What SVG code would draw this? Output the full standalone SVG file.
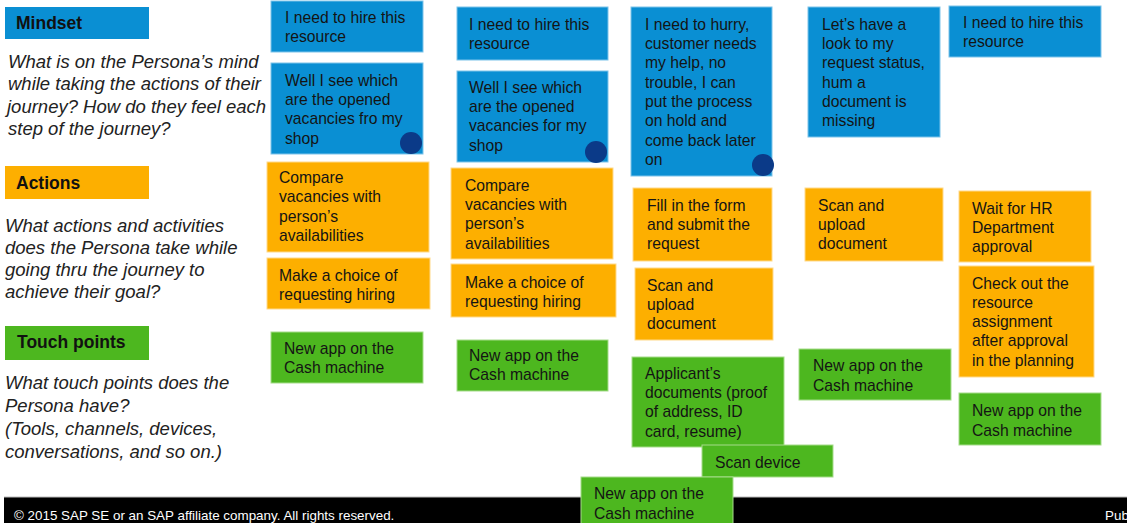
<svg xmlns="http://www.w3.org/2000/svg" width="1127" height="523" viewBox="0 0 1127 523">
<style>
text{font-family:"Liberation Sans",Arial,sans-serif}
.hdr{font-size:17.5px;font-weight:bold;fill:#111}
.q{font-size:18.5px;font-style:italic;fill:#222}
.t{font-size:15.7px;fill:#141414}
.b{fill:#0A8FD3;stroke:#7cc3ea;stroke-width:1}
.o{fill:#FDAF00;stroke:#ffd98a;stroke-width:1}
.g{fill:#4DB71F;stroke:#a5dc8a;stroke-width:1}
.dot{fill:#0B3A88}
.ft{font-size:13.4px;fill:#fff}
</style>
<rect width="1127" height="523" fill="#fff"/>

<g id="mindset-header"><rect x="5" y="7" width="144" height="32" fill="#0A8FD3"/><text class="hdr" x="16" y="29">Mindset</text></g>
<g id="mindset-question"><text class="q" x="8" y="68">What is on the Persona’s mind</text><text class="q" x="8" y="90">while taking the actions of their</text><text class="q" x="7" y="113">journey? How do they feel each</text><text class="q" x="8" y="135">step of the journey?</text></g>

<g id="actions-header"><rect x="5" y="166" width="144" height="33" fill="#FDAF00"/><text class="hdr" x="16" y="189">Actions</text></g>
<g id="actions-question"><text class="q" x="5" y="232">What actions and activities</text><text class="q" x="5" y="254">does the Persona take while</text><text class="q" x="5" y="276">going thru the journey to</text><text class="q" x="5" y="298">achieve their goal?</text></g>

<g id="touch-header"><rect x="5" y="326" width="144" height="34" fill="#4DB71F"/><text class="hdr" x="17" y="348">Touch points</text></g>
<g id="touch-question"><text class="q" x="5" y="389">What touch points does the</text><text class="q" x="5" y="412">Persona have?</text><text class="q" x="5" y="435">(Tools, channels, devices,</text><text class="q" x="5" y="458">conversations, and so on.)</text></g>

<g id="footer"><rect x="4" y="497" width="1123" height="26" fill="#000"/><line x1="4" y1="497" x2="1127" y2="497" stroke="#bbb" stroke-width="1"/><text class="ft" x="14" y="520">© 2015 SAP SE or an SAP affiliate company. All rights reserved.</text><text class="ft" x="1105" y="520">Pub</text></g>

<g id="b1"><rect class="b" x="271" y="1" width="152" height="51"/><text class="t" x="285" y="23">I need to hire this</text><text class="t" x="285" y="42">resource</text></g>
<g id="b2"><rect class="b" x="271" y="63" width="152" height="91"/><text class="t" x="285" y="86">Well I see which</text><text class="t" x="285" y="105">are the opened</text><text class="t" x="285" y="124">vacancies fro my</text><text class="t" x="285" y="144">shop</text><circle class="dot" cx="411" cy="143" r="11"/></g>
<g id="b3"><rect class="b" x="457" y="7" width="151" height="53"/><text class="t" x="469" y="30">I need to hire this</text><text class="t" x="469" y="49">resource</text></g>
<g id="b4"><rect class="b" x="457" y="71" width="151" height="91"/><text class="t" x="469" y="93">Well I see which</text><text class="t" x="469" y="112">are the opened</text><text class="t" x="469" y="131">vacancies for my</text><text class="t" x="469" y="151">shop</text><circle class="dot" cx="596" cy="152" r="11"/></g>
<g id="b5"><rect class="b" x="631" y="7" width="141" height="169"/><text class="t" x="645" y="30">I need to hurry,</text><text class="t" x="645" y="49">customer needs</text><text class="t" x="645" y="68">my help, no</text><text class="t" x="645" y="88">trouble, I can</text><text class="t" x="645" y="107">put the process</text><text class="t" x="645" y="126">on hold and</text><text class="t" x="645" y="146">come back later</text><text class="t" x="645" y="165">on</text><circle class="dot" cx="763" cy="165" r="11"/></g>
<g id="b6"><rect class="b" x="808" y="7" width="132" height="130"/><text class="t" x="822" y="30">Let’s have a</text><text class="t" x="822" y="49">look to my</text><text class="t" x="822" y="68">request status,</text><text class="t" x="822" y="88">hum a</text><text class="t" x="822" y="107">document is</text><text class="t" x="822" y="126">missing</text></g>
<g id="b7"><rect class="b" x="949" y="6" width="152" height="51"/><text class="t" x="963" y="28">I need to hire this</text><text class="t" x="963" y="47">resource</text></g>

<g id="a1"><rect class="o" x="267" y="162" width="162" height="90"/><text class="t" x="279" y="183">Compare</text><text class="t" x="279" y="202">vacancies with</text><text class="t" x="279" y="222">person’s</text><text class="t" x="279" y="241">availabilities</text></g>
<g id="a2"><rect class="o" x="267" y="258" width="163" height="51"/><text class="t" x="279" y="281">Make a choice of</text><text class="t" x="279" y="300">requesting hiring</text></g>
<g id="a3"><rect class="o" x="451" y="168" width="162" height="91"/><text class="t" x="465" y="191">Compare</text><text class="t" x="465" y="210">vacancies with</text><text class="t" x="465" y="229">person’s</text><text class="t" x="465" y="249">availabilities</text></g>
<g id="a4"><rect class="o" x="451" y="264" width="165" height="53"/><text class="t" x="465" y="288">Make a choice of</text><text class="t" x="465" y="307">requesting hiring</text></g>
<g id="a5"><rect class="o" x="633" y="188" width="139" height="73"/><text class="t" x="647" y="211">Fill in the form</text><text class="t" x="647" y="230">and submit the</text><text class="t" x="647" y="249">request</text></g>
<g id="a6"><rect class="o" x="635" y="268" width="138" height="72"/><text class="t" x="647" y="291">Scan and</text><text class="t" x="647" y="310">upload</text><text class="t" x="647" y="329">document</text></g>
<g id="a7"><rect class="o" x="805" y="188" width="138" height="73"/><text class="t" x="818" y="211">Scan and</text><text class="t" x="818" y="230">upload</text><text class="t" x="818" y="249">document</text></g>
<g id="a8"><rect class="o" x="959" y="191" width="132" height="71"/><text class="t" x="972" y="214">Wait for HR</text><text class="t" x="972" y="233">Department</text><text class="t" x="972" y="252">approval</text></g>
<g id="a9"><rect class="o" x="959" y="266" width="135" height="111"/><text class="t" x="972" y="289">Check out the</text><text class="t" x="972" y="308">resource</text><text class="t" x="972" y="327">assignment</text><text class="t" x="972" y="346">after approval</text><text class="t" x="972" y="366">in the planning</text></g>

<g id="g1"><rect class="g" x="271" y="332" width="152" height="51"/><text class="t" x="284" y="354">New app on the</text><text class="t" x="284" y="373">Cash machine</text></g>
<g id="g2"><rect class="g" x="457" y="340" width="151" height="51"/><text class="t" x="469" y="361">New app on the</text><text class="t" x="469" y="380">Cash machine</text></g>
<g id="g3"><rect class="g" x="632" y="357" width="152" height="90"/><text class="t" x="645" y="379">Applicant’s</text><text class="t" x="645" y="398">documents (proof</text><text class="t" x="645" y="417">of address, ID</text><text class="t" x="645" y="437">card, resume)</text></g>
<g id="g4"><rect class="g" x="799" y="349" width="152" height="51"/><text class="t" x="813" y="371">New app on the</text><text class="t" x="813" y="391">Cash machine</text></g>
<g id="g5"><rect class="g" x="959" y="393" width="142" height="52"/><text class="t" x="972" y="416">New app on the</text><text class="t" x="972" y="436">Cash machine</text></g>
<g id="g6"><rect class="g" x="702" y="445" width="131" height="32"/><text class="t" x="715" y="468">Scan device</text></g>
<g id="g7"><rect class="g" x="581" y="477" width="152" height="47"/><text class="t" x="594" y="499">New app on the</text><text class="t" x="594" y="519">Cash machine</text></g>

<g id="connectors"></g>
</svg>
